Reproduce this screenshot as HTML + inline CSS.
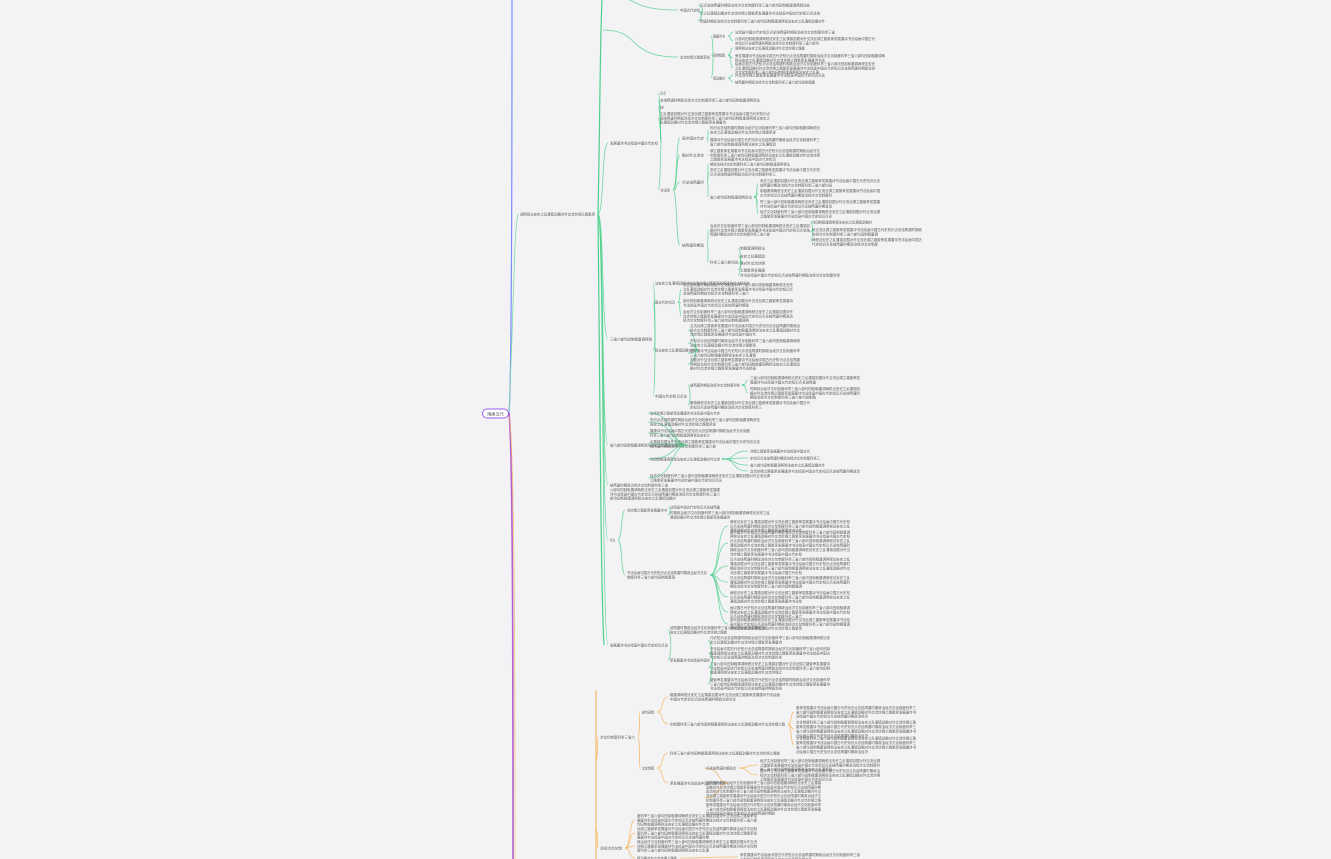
<!DOCTYPE html>
<html><head><meta charset="utf-8"><style>
html,body{margin:0;padding:0;background:#f3f3f6;overflow:hidden}
svg{display:block}
text{font-family:"Liberation Sans","Noto Sans CJK SC",sans-serif;fill:#5a5a5a}
</style></head><body>
<svg id="s" width="1331" height="859" viewBox="0 0 1331 859" xmlns="http://www.w3.org/2000/svg">
<rect width="1331" height="859" fill="#f3f3f6"/>
<path d="M509,413 C512,380 512,100 512,0" stroke="#7b8cff" stroke-width="1.2" fill="none"/>
<path d="M509,413 C513,450 513,700 513,859" stroke="#b25fd0" stroke-width="1.6" fill="none"/>
<path d="M509,415 C515,450 515,700 515,859" stroke="#f6b04a" stroke-width="0.8" fill="none" opacity="0.7"/>
<path d="M509,413 C514,300 514,230 518,214" stroke="#7ddba6" stroke-width="0.8" fill="none"/>
<path d="M598,214 C600,120 600,40 602,0" stroke="#4cd08a" stroke-width="1.2" fill="none"/>
<path d="M598,214 C600,400 601,600 604,645" stroke="#4cd08a" stroke-width="1.2" fill="none"/>
<path d="M596,690 C596,760 596,820 596,859" stroke="#f6b04a" stroke-width="1" fill="none"/>
<rect x="482.5" y="409" width="26" height="9" rx="4.5" fill="#fff" stroke="#9b5cf0" stroke-width="1"/>
<text x="495.5" y="415.5" font-size="4.2" text-anchor="middle">隋唐五代</text>
<g id="g"></g>
</svg>
<script>
var G='#4cd08a',O='#f6b04a';
var S='中国古代史知识点总结隋唐时期政治经济文化制度科举三省六部均田制租庸调两税法安史之乱藩镇割据对外交流丝绸之路繁荣发展唐诗书法绘画';
var g=document.getElementById('g'),ns='http://www.w3.org/2000/svg';
function el(t,a){var e=document.createElementNS(ns,t);for(var k in a)e.setAttribute(k,a[k]);g.appendChild(e);return e;}
var off=0;
function txt(x,y,w,n){for(var i=0;i<n;i++){var ww=(i==n-1&&n>1)?w*0.6:w;var c=Math.max(2,Math.round(ww/3.4));var s='';for(var j=0;j<c;j++)s+=S[(off++)%S.length];var t=el('text',{x:x,y:y+1.3+(i-(n-1)/2)*4.4,'font-size':3.4,textLength:ww,lengthAdjust:'spacingAndGlyphs'});t.textContent=s;}}
function N(px,py,x,y,w,n,c){var mx=(px+x)/2;el('path',{d:'M'+px+','+py+' C'+mx+','+py+' '+(px+ (x-px)*0.3)+','+y+' '+(x-2)+','+y,stroke:c,'stroke-width':0.8,fill:'none',opacity:0.8});txt(x,y,w,n||1);return [x+w+3,y];}
function hub(p,c){el('circle',{cx:p[0],cy:p[1],r:1,fill:c});}
var a=N(602,-5,680,10,20,1,G);N(a[0],a[1],700,5,110,1,G);N(a[0],a[1],700,13,120,1,G);N(a[0],a[1],700,21,125,1,G);
var b=N(603,30,680,57,30,1,G);
var c1=N(b[0],b[1],713,36,12,1,G);N(c1[0],c1[1],735,32,100,1,G);N(c1[0],c1[1],735,41,140,2,G);
var c2=N(b[0],b[1],713,55,12,1,G);N(c2[0],c2[1],735,48,70,1,G);N(c2[0],c2[1],735,58,150,2,G);N(c2[0],c2[1],735,68,140,3,G);
var c3=N(b[0],b[1],713,78,12,1,G);N(c3[0],c3[1],735,75,90,1,G);N(c3[0],c3[1],735,82,80,1,G);
txt(520,214,75,1);
var s1=N(598,214,610,143,48,1,G);
N(s1[0],s1[1],660,93,6,1,G);N(s1[0],s1[1],660,100,100,1,G);N(s1[0],s1[1],660,107,4,1,G);N(s1[0],s1[1],660,118,110,3,G);
var z=N(s1[0],s1[1],660,190,10,1,G);
var z1=N(z[0],z[1],682,138,22,1,G);N(z1[0],z1[1],710,130,110,2,G);N(z1[0],z1[1],710,142,110,2,G);
var z2=N(z[0],z[1],682,155,22,1,G);N(z2[0],z2[1],710,155,110,3,G);
var z3=N(z[0],z[1],682,182,22,1,G);N(z3[0],z3[1],710,164,80,1,G);N(z3[0],z3[1],710,172,110,2,G);
var z4=N(z3[0],z3[1],710,197,42,1,G);hub(z4,G);N(z4[0],z4[1],760,183,120,2,G);N(z4[0],z4[1],760,193,120,2,G);N(z4[0],z4[1],760,204,120,2,G);N(z4[0],z4[1],760,214,120,2,G);
var z5=N(z[0],z[1],682,245,22,1,G);var z6=N(z5[0],z5[1],710,230,100,3,G);hub(z6,G);N(z6[0],z6[1],812,222,60,1,G);N(z6[0],z6[1],812,232,110,2,G);N(z6[0],z6[1],812,242,110,2,G);
var z7=N(z5[0],z5[1],710,262,28,1,G);hub(z7,G);N(z7[0],z7[1],740,248,25,1,G);N(z7[0],z7[1],740,256,25,1,G);N(z7[0],z7[1],740,263,25,1,G);N(z7[0],z7[1],740,270,25,1,G);N(z7[0],z7[1],740,275,100,1,G);
var s2=N(598,214,610,339,42,1,G);
N(s2[0],s2[1],655,283,95,1,G);
var t1=N(s2[0],s2[1],655,302,20,1,G);N(t1[0],t1[1],683,289,110,3,G);N(t1[0],t1[1],683,303,110,2,G);N(t1[0],t1[1],683,316,110,3,G);
var t2=N(s2[0],s2[1],655,350,40,1,G);N(t2[0],t2[1],690,330,110,3,G);N(t2[0],t2[1],690,343,110,2,G);N(t2[0],t2[1],690,353,110,2,G);N(t2[0],t2[1],690,364,110,3,G);
var t3=N(s2[0],s2[1],655,396,32,1,G);var t4=N(t3[0],t3[1],690,385,50,1,G);hub(t4,G);N(t4[0],t4[1],750,380,110,2,G);N(t4[0],t4[1],750,393,110,3,G);N(t3[0],t3[1],690,405,120,2,G);
var s3=N(598,214,610,445,75,1,G);
N(s3[0],s3[1],650,413,70,1,G);N(s3[0],s3[1],650,422,110,2,G);N(s3[0],s3[1],650,433,100,2,G);N(s3[0],s3[1],650,444,110,2,G);
var u=N(s3[0],s3[1],650,459,70,1,G);hub(u,G);N(u[0],u[1],750,451,60,1,G);N(u[0],u[1],750,458,70,1,G);N(u[0],u[1],750,465,75,1,G);N(u[0],u[1],750,471,110,1,G);
N(s3[0],s3[1],650,478,120,2,G);
N(598,214,610,485,58,1,G);txt(610,494,110,3);
var s5=N(598,214,610,540,5,1,G);
var v=N(s5[0],s5[1],627,510,40,1,G);N(v[0],v[1],670,507,50,1,G);N(v[0],v[1],670,515,100,2,G);
var v2=N(s5[0],s5[1],627,575,80,2,G);
[[526,3],[543,6],[566,4],[582,3],[597,3],[612,3],[624,3]].forEach(function(q){N(v2[0],v2[1],730,q[0],120,q[1],G);});
var s6=N(598,214,610,645,58,1,G);
N(s6[0],s6[1],670,630,95,2,G);
var w=N(s6[0],s6[1],670,660,40,1,G);N(w[0],w[1],710,640,120,2,G);N(w[0],w[1],710,653,120,3,G);N(w[0],w[1],710,668,120,3,G);N(w[0],w[1],710,684,120,3,G);
var o1=N(596,760,600,737,35,1,O);
var p1=N(o1[0],o1[1],642,712,12,1,O);N(p1[0],p1[1],670,697,110,2,O);
var p2=N(p1[0],p1[1],670,724,115,1,O);N(p2[0],p2[1],796,712,120,3,O);N(p2[0],p2[1],796,729,120,4,O);N(p2[0],p2[1],796,745,120,4,O);
var p3=N(o1[0],o1[1],642,768,12,1,O);N(p3[0],p3[1],670,753,110,1,O);
var p4=N(p3[0],p3[1],670,783,55,1,O);var p5=N(p4[0],p4[1],706,768,30,1,O);N(p5[0],p5[1],760,765,120,3,O);N(p5[0],p5[1],760,775,120,3,O);
N(p4[0],p4[1],706,798,115,8,O);
var o2=N(596,830,600,848,22,1,O);
N(o2[0],o2[1],637,820,120,3,O);N(o2[0],o2[1],637,833,120,3,O);N(o2[0],o2[1],637,846,120,3,O);var o3=N(o2[0],o2[1],637,858,40,1,O);
N(o3[0],o3[1],740,857,120,2,O);
</script>
</body></html>
